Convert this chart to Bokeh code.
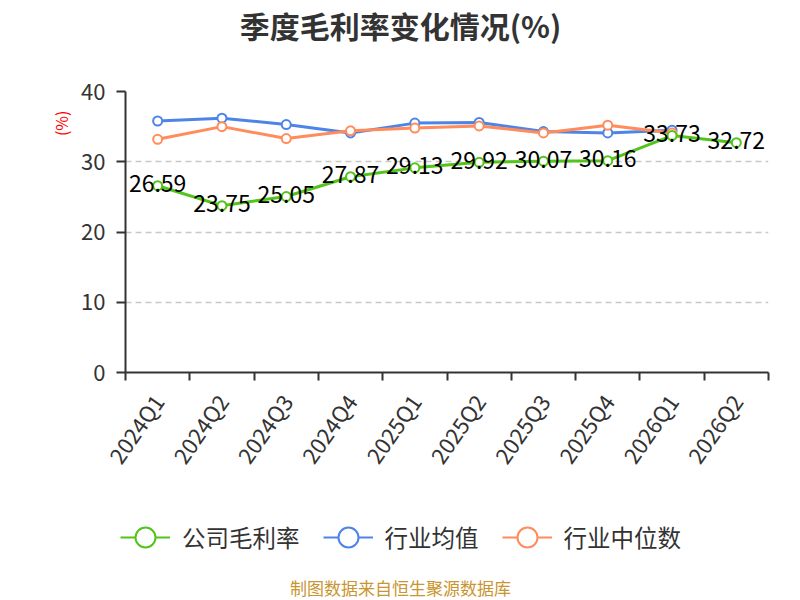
import math
from bokeh.plotting import figure
from bokeh.layouts import column
from bokeh.models import (Range1d, FixedTicker, Label, LabelSet, ColumnDataSource,
                          Legend, LegendItem, Title)
from bokeh.core.properties import value
from bokeh.embed import file_html
from bokeh.resources import INLINE

# ---- data ----
quarters = ["2024Q1", "2024Q2", "2024Q3", "2024Q4", "2025Q1", "2025Q2",
            "2025Q3", "2025Q4", "2026Q1", "2026Q2"]
company_margin = [26.59, 23.75, 25.05, 27.87, 29.13, 29.92, 30.07, 30.16, 33.73, 32.72]
industry_mean = [35.8, 36.2, 35.3, 34.1, 35.5, 35.6, 34.3, 34.1, 34.5]
industry_median = [33.2, 35.0, 33.3, 34.4, 34.8, 35.1, 34.1, 35.2, 34.1]
y_ticks = [0, 10, 20, 30, 40]
series_names = ["公司毛利率", "行业均值", "行业中位数"]
title_text = "季度毛利率变化情况(%)"
unit_text = "(%)"
source_text = "制图数据来自恒生聚源数据库"

GREEN = "#52c41a"
BLUE = "#4e84e8"
ORANGE = "#ff8c5a"
FONT = "Noto Sans CJK SC"

W, H0, H1, H2 = 800, 50, 450, 100
FL, FR, FT, FB = 125, 768, 91, 372  # frame edges (page coords)


def no_align(fig):
    try:
        fig.frame_align = False
        return True
    except Exception:
        return False


# ---- top strip: title ----
p0 = figure(width=W, height=H0, output_backend="svg", toolbar_location=None,
            x_range=Range1d(0, 1), y_range=Range1d(0, 1),
            x_axis_type=None, y_axis_type=None, min_border=0)
p0.outline_line_color = None
p0.add_layout(Label(x=400, y=H0 - 24, x_units="screen", y_units="screen",
                    text=title_text, text_align="center", text_baseline="middle",
                    text_font=FONT, text_font_size="30px", text_font_style="bold",
                    text_color="#333333"))

# ---- main chart ----
p = figure(width=W, height=H1, output_backend="svg", toolbar_location=None,
           x_range=Range1d(0, len(quarters)), y_range=Range1d(0, 40),
           min_border_left=FL, min_border_right=W - FR,
           min_border_top=FT - H0, min_border_bottom=H0 + H1 - FB)
p.outline_line_color = None
p.xgrid.grid_line_color = None

# y axis
yax = p.yaxis[0]
yax.ticker = FixedTicker(ticks=y_ticks)
yax.axis_line_color = "#333333"
yax.axis_line_width = 2
yax.major_tick_line_color = "#333333"
yax.major_tick_line_width = 2
yax.major_tick_out = 9
yax.major_tick_in = 0
yax.minor_tick_line_color = None
yax.major_label_text_font = FONT
yax.major_label_text_font_size = "22px"
yax.major_label_text_color = "#333333"
yax.major_label_standoff = 11

p.ygrid.ticker = FixedTicker(ticks=y_ticks)
p.ygrid.grid_line_color = "#c8c8c8"
p.ygrid.grid_line_width = 1.5
p.ygrid.grid_line_dash = "6 4"

# unit label on the left
p.add_layout(Title(text=unit_text, align="right", offset=19, standoff=11,
                   text_font=FONT, text_font_size="16px", text_font_style="normal",
                   text_color="#ff0000"), "left")

# x axis
centers = [i + 0.5 for i in range(len(quarters))]
xax = p.xaxis[0]
xax.ticker = FixedTicker(ticks=centers, minor_ticks=list(range(len(quarters) + 1)))
xax.major_label_overrides = {c: q for c, q in zip(centers, quarters)}
xax.axis_line_color = "#333333"
xax.axis_line_width = 2
xax.major_tick_line_color = None
xax.minor_tick_line_color = "#333333"
xax.minor_tick_line_width = 2
xax.minor_tick_out = 8
xax.minor_tick_in = 0
xax.major_label_orientation = math.radians(55)
xax.major_label_text_font = FONT
xax.major_label_text_font_size = "22px"
xax.major_label_text_color = "#333333"
xax.major_label_standoff = 16

# series
src_b = ColumnDataSource(dict(x=centers[:len(industry_mean)], y=industry_mean))
src_o = ColumnDataSource(dict(x=centers[:len(industry_median)], y=industry_median))
src_g = ColumnDataSource(dict(x=centers, y=company_margin,
                              t=["%.2f" % v for v in company_margin]))

for src, col in ((src_b, BLUE), (src_o, ORANGE), (src_g, GREEN)):
    p.line("x", "y", source=src, line_color=col, line_width=3)
    p.scatter("x", "y", source=src, marker="circle", size=9, fill_color="white",
              line_color=col, line_width=2)

labels = LabelSet(x="x", y="y", text="t", source=src_g, text_align="center",
                  text_baseline="middle", y_offset=2, text_font=value(FONT),
                  text_font_size=value("23px"), text_color=value("#000000"))
p.add_layout(labels)

# ---- bottom strip: legend + source note ----
p2 = figure(width=W, height=H2, output_backend="svg", toolbar_location=None,
            x_range=Range1d(0, 1), y_range=Range1d(0, 1),
            x_axis_type=None, y_axis_type=None, min_border=0)
p2.outline_line_color = None

ok = all([no_align(p0), no_align(p), no_align(p2)])
XOFF = 0 if ok else FL

items = []
for name, col in zip(series_names, (GREEN, BLUE, ORANGE)):
    dsrc = ColumnDataSource(dict(x=[-5, -4], y=[-5, -5]))
    r1 = p2.line("x", "y", source=dsrc, line_color=col, line_width=2)
    r2 = p2.scatter("x", "y", source=dsrc, marker="circle", size=20,
                    fill_color="white", line_color=col, line_width=2)
    items.append(LegendItem(label=name, renderers=[r1, r2]))
legend = Legend(items=items, orientation="horizontal", location=(120 - XOFF, 38),
                glyph_width=50, glyph_height=50, label_standoff=12, spacing=23,
                padding=0, margin=0, border_line_color=None,
                background_fill_alpha=0, label_text_font=FONT,
                label_text_font_size="23.5px", label_text_color="#333333")
p2.add_layout(legend, "center")

p2.add_layout(Label(x=400 - XOFF, y=13, x_units="screen", y_units="screen",
                    text=source_text, text_align="center", text_baseline="middle",
                    text_font=FONT, text_font_size="17px", text_color="#c9952f"))

layout = column(p0, p, p2, spacing=0)
open("out.html", "w").write(file_html(layout, INLINE))
